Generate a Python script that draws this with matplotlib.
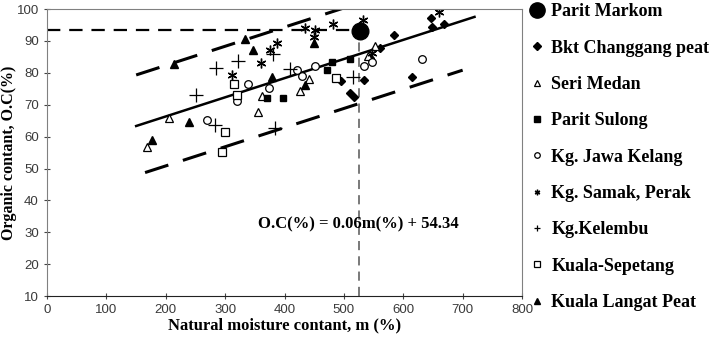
import numpy as np
import matplotlib
matplotlib.use('Agg')
import matplotlib.pyplot as plt

# ---- data (m %, O.C %) ----
markom_m = [527]
markom_oc = [93]

bkt_m = [495, 510, 517, 534, 544, 561, 585, 614, 647, 648, 668]
bkt_oc = [77.3, 73.8, 72.5, 77.8, 84.6, 87.7, 91.9, 78.8, 97.2, 94.3, 95.4]

seri_m = [169, 206, 356, 362, 426, 441, 540, 553]
seri_oc = [56.7, 66.0, 67.7, 72.7, 74.2, 78.0, 85.3, 88.5]

sulong_m = [370, 398, 471, 480, 511]
sulong_oc = [72.2, 72.2, 81.0, 83.4, 84.2]

jawa_m = [269, 320, 339, 374, 421, 429, 452, 534, 547, 631]
jawa_oc = [65.3, 71.2, 76.4, 75.1, 81.0, 79.0, 82.3, 82.2, 83.5, 84.3]

samak_m = [311, 361, 375, 387, 435, 451, 450, 482, 532, 547, 661]
samak_oc = [79.3, 83.0, 87.2, 89.3, 94.0, 93.5, 91.2, 95.4, 96.7, 86.2, 99.0]

kelembu_m = [250, 283, 284, 321, 380, 384, 409, 516]
kelembu_oc = [73.0, 63.6, 81.6, 83.7, 86.0, 62.7, 81.2, 78.7]

sepetang_m = [294, 300, 315, 320, 487]
sepetang_oc = [55.2, 61.4, 76.4, 73.0, 78.3]

langat_m = [177, 214, 239, 334, 347, 379, 434, 449]
langat_oc = [59.0, 82.8, 64.6, 90.5, 87.2, 78.6, 76.3, 89.5]

# regression and +/- band
slope, intercept = 0.06, 54.34
fit_range = [150, 720]
upper_range, upper_off = [150, 720], 16.0
lower_range, lower_off = [165, 700], -15.5
ref_m, ref_oc = 525, 93.5

fig = plt.figure(figsize=(7.25, 3.48), dpi=100)
ax = fig.add_axes([0.065, 0.149, 0.655, 0.825])

serif = {'family': 'Liberation Serif', 'weight': 'bold'}

# guide lines to Parit Markom
ax.plot([0, ref_m], [ref_oc, ref_oc], color='black', lw=1.6, dashes=(6, 4))
ax.plot([ref_m, ref_m], [10, ref_oc], color='#555555', lw=1.1, dashes=(6, 4))

x = np.array(fit_range)
ax.plot(x, slope * x + intercept, color='black', lw=1.8)
x = np.array(upper_range)
ax.plot(x, slope * x + intercept + upper_off, color='black', lw=2.2, dashes=(8, 5))
x = np.array(lower_range)
ax.plot(x, slope * x + intercept + lower_off, color='black', lw=2.2, dashes=(8, 5))

h = []
h += ax.plot(markom_m, markom_oc, ls='none', marker='o', ms=12, color='black',
             label='Parit Markom')
h += ax.plot(bkt_m, bkt_oc, ls='none', marker='D', ms=4, color='black',
             label='Bkt Changgang peat')
h += ax.plot(seri_m, seri_oc, ls='none', marker='^', ms=5.5, mfc='white',
             mec='black', mew=0.9, label='Seri Medan')
h += ax.plot(sulong_m, sulong_oc, ls='none', marker='s', ms=4, color='black',
             label='Parit Sulong')
h += ax.plot(jawa_m, jawa_oc, ls='none', marker='o', ms=5.5, mfc='white',
             mec='black', mew=0.9, label='Kg. Jawa Kelang')
h += ax.plot(samak_m, samak_oc, ls='none', marker=(6, 2, 0), ms=7,
             color='black', mew=1.0, label='Kg. Samak, Perak')
h += ax.plot(kelembu_m, kelembu_oc, ls='none', marker='+', ms=10,
             color='black', mew=0.9, label='Kg.Kelembu')
h += ax.plot(sepetang_m, sepetang_oc, ls='none', marker='s', ms=5.5,
             mfc='white', mec='black', mew=0.9, label='Kuala-Sepetang')
h += ax.plot(langat_m, langat_oc, ls='none', marker='^', ms=6, color='black',
             label='Kuala Langat Peat')

ax.text(355, 32.6, 'O.C(%) = 0.06m(%) + 54.34', fontsize=12, va='center',
        ha='left', **serif)

ax.set_xlim(0, 800)
ax.set_ylim(10, 100)
ax.set_xticks(range(0, 801, 100))
ax.set_yticks(range(10, 101, 10))
ax.tick_params(direction='inout', length=5, width=0.8, labelsize=9.5,
               labelcolor='#3a3a3a', color='#444444')
for lab in ax.get_xticklabels() + ax.get_yticklabels():
    lab.set_family('Liberation Sans')
for s in ['top', 'right', 'left']:
    ax.spines[s].set_color('#808080')
ax.spines['bottom'].set_color('#222222')

ax.set_xlabel('Natural moisture contant, m (%)', fontsize=12, labelpad=1, **serif)
ax.set_ylabel('Organic contant, O.C(%)', fontsize=11.5, **serif)
ax.yaxis.set_label_coords(-0.064, 0.5)

leg = ax.legend(handles=h, loc='upper left', bbox_to_anchor=(1.005, 1.045),
                frameon=False, handlelength=0.6, handletextpad=0.5,
                labelspacing=1.07, borderaxespad=0,
                prop={'family': 'Liberation Serif', 'weight': 'bold', 'size': 13})
for lh in leg.legend_handles:
    lh.set_markersize(4 if lh.get_label() != 'Parit Markom' else 11)

fig.savefig('out.png', dpi=100)
